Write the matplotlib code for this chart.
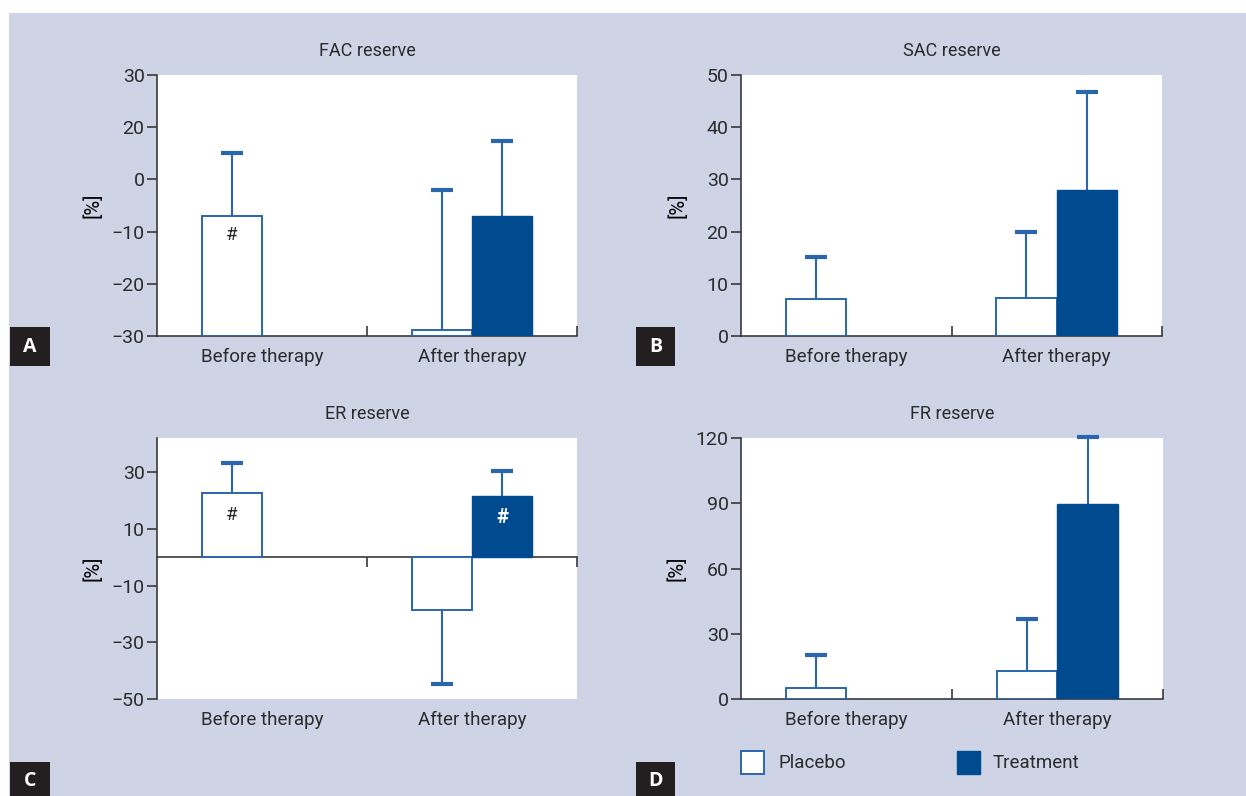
import numpy as np
import matplotlib
matplotlib.use("Agg")
import matplotlib.pyplot as plt
from matplotlib.patches import Rectangle
from matplotlib.transforms import blended_transform_factory

# data
groups = ["Before therapy", "After therapy"]

fac_placebo = [-7.0, -28.8]
fac_placebo_sd = [12.0, 26.7]
fac_treat = -7.0
fac_treat_sd = 14.3

sac_placebo = [7.1, 7.3]
sac_placebo_sd = [8.0, 12.6]
sac_treat = 28.0
sac_treat_sd = 18.7

er_placebo = [22.6, -18.8]
er_placebo_sd = [10.5, 25.9]
er_treat = 21.7
er_treat_sd = 8.8

fr_placebo = [4.9, 12.7]
fr_placebo_sd = [15.3, 24.3]
fr_treat = 89.6
fr_treat_sd = 31.0

# FAC axis labels as printed in the original (equally spaced ticks)
fac_ticks = [20, 10, 0, -10, -20, -30]
fac_ticklabels = ["30", "20", "0", "\u221210", "\u221220", "\u221230"]

W, H = 1246, 796
BG = "#CED3E6"
DARK_BLUE = "#004A8F"
EDGE_BLUE = "#2A66AC"
SPINE = "#3A3A3A"
FONT = ["Roboto", "DejaVu Sans"]
FS = 12.5

plt.rcParams["font.family"] = FONT
plt.rcParams["text.color"] = "#2B2B2B"

fig = plt.figure(figsize=(W / 100, H / 100), dpi=100)
fig.patch.set_facecolor("white")
fig.patches.append(Rectangle((9 / W, 0), 1 - 9 / W, 1 - 13 / H, transform=fig.transFigure,
                             facecolor=BG, edgecolor="none", zorder=-10))


def px_axes(left, right, top, bottom):
    return fig.add_axes([left / W, 1 - bottom / H, (right - left) / W, (bottom - top) / H])


def draw_panel(ax, title, placebo, placebo_sd, treat, treat_sd, base, ylim, zero_axis=False):
    w = 0.288
    centers = np.array([0.5, 1.5])
    ax.set_xlim(0, 2)
    ax.set_ylim(*ylim)
    ax.set_facecolor("white")
    for s in ["top", "right"]:
        ax.spines[s].set_visible(False)
    for s in ["left", "bottom"]:
        ax.spines[s].set_color(SPINE)
        ax.spines[s].set_linewidth(1.2)
    if zero_axis:
        ax.spines["bottom"].set_position(("data", 0))
    ax.spines["bottom"].set_zorder(1)

    px = centers - w
    ax.bar(px, np.array(placebo) - base, bottom=base, width=w, align="edge",
           facecolor="white", edgecolor=EDGE_BLUE, linewidth=1.4, zorder=2)
    ax.bar([centers[1]], [treat - base], bottom=base, width=w, align="edge",
           facecolor=DARK_BLUE, edgecolor=DARK_BLUE, linewidth=1.0, zorder=2)

    # one-sided error bars, pointing away from the baseline
    for x, v, sd in list(zip(px + w / 2, placebo, placebo_sd)) + [(centers[1] + w / 2, treat, treat_sd)]:
        yerr = [[0], [sd]] if v >= base else [[sd], [0]]
        eb = ax.errorbar([x], [v], yerr=yerr, fmt="none", ecolor=EDGE_BLUE, elinewidth=1.5,
                         capsize=8, capthick=3, zorder=1.5)
        for child in eb.get_children():
            child.set_clip_on(False)
        for cap in eb[1]:
            if np.isclose(cap.get_ydata()[0], v):
                cap.set_visible(False)

    ax.set_xticks([1, 2])
    ax.set_xticklabels([])
    ax.tick_params(axis="x", direction="out" if zero_axis else "in", length=7,
                   width=1.2, color=SPINE)
    ax.tick_params(axis="y", direction="out", length=7, width=1.2, color=SPINE,
                   labelsize=FS + 1.5, labelcolor="#2B2B2B", pad=2)
    trans = blended_transform_factory(ax.transData, ax.transAxes)
    for c, g in zip(centers, groups):
        ax.text(c, -0.08, g, transform=trans, ha="center", va="center", fontsize=FS + 1)
    ax.text(0.5, 1.093, title, transform=ax.transAxes, ha="center", va="center", fontsize=FS + 0.5)
    ax.set_ylabel("[%]", fontsize=FS + 2)


axA = px_axes(157, 577, 75, 336)
draw_panel(axA, "FAC reserve", fac_placebo, fac_placebo_sd, fac_treat, fac_treat_sd,
           base=-30, ylim=(-30, 20))
axA.set_yticks(fac_ticks)
axA.set_yticklabels(fac_ticklabels)
axA.text(0.5 - 0.144, -10.6, "#", ha="center", va="center", fontsize=FS + 1)

axB = px_axes(741, 1162, 75, 336)
draw_panel(axB, "SAC reserve", sac_placebo, sac_placebo_sd, sac_treat, sac_treat_sd,
           base=0, ylim=(0, 50))
axB.set_yticks([0, 10, 20, 30, 40, 50])

axC = px_axes(157, 577, 438, 699)
draw_panel(axC, "ER reserve", er_placebo, er_placebo_sd, er_treat, er_treat_sd,
           base=0, ylim=(-50, 42), zero_axis=True)
axC.set_yticks([30, 10, -10, -30, -50])
axC.set_yticklabels(["30", "10", "\u221210", "\u221230", "\u221250"])
axC.text(0.5 - 0.144, 14.8, "#", ha="center", va="center", fontsize=FS + 1)
axC.text(1.5 + 0.144, 14.0, "#", ha="center", va="center", fontsize=FS + 2,
         color="white", fontweight="bold")

axD = px_axes(741, 1163, 438, 699)
draw_panel(axD, "FR reserve", fr_placebo, fr_placebo_sd, fr_treat, fr_treat_sd,
           base=0, ylim=(0, 120))
axD.set_yticks([0, 30, 60, 90, 120])

for ax in (axA, axC):
    ax.yaxis.set_label_coords(-0.13, 0.5)
for ax in (axB, axD):
    ax.yaxis.set_label_coords(-0.128, 0.5)


# panel letters
def letter(x0, x1, y0, y1, s):
    fig.patches.append(Rectangle((x0 / W, 1 - y1 / H), (x1 - x0) / W, (y1 - y0) / H,
                                 transform=fig.transFigure, facecolor="#231F20",
                                 edgecolor="none", zorder=5))
    fig.text((x0 + x1) / 2 / W, 1 - (y0 + y1) / 2 / H, s, color="white", fontsize=14,
             fontweight="bold", ha="center", va="center", family=["Open Sans", "DejaVu Sans"],
             zorder=6)


letter(10, 50, 327, 366, "A")
letter(636, 675, 327, 366, "B")
letter(10, 50, 762, 800, "C")
letter(636, 675, 762, 800, "D")

# legend
fig.patches.append(Rectangle((741 / W, 1 - 774 / H), 23 / W, 23 / H, transform=fig.transFigure,
                             facecolor="white", edgecolor=EDGE_BLUE, linewidth=1.4, zorder=5))
fig.text(779 / W, 1 - 763 / H, "Placebo", fontsize=FS + 1, ha="left", va="center")
fig.patches.append(Rectangle((957 / W, 1 - 774 / H), 23 / W, 23 / H, transform=fig.transFigure,
                             facecolor=DARK_BLUE, edgecolor=DARK_BLUE, linewidth=1.0, zorder=5))
fig.text(993 / W, 1 - 763 / H, "Treatment", fontsize=FS + 1, ha="left", va="center")

fig.savefig("out.png", dpi=100, facecolor=fig.get_facecolor())
